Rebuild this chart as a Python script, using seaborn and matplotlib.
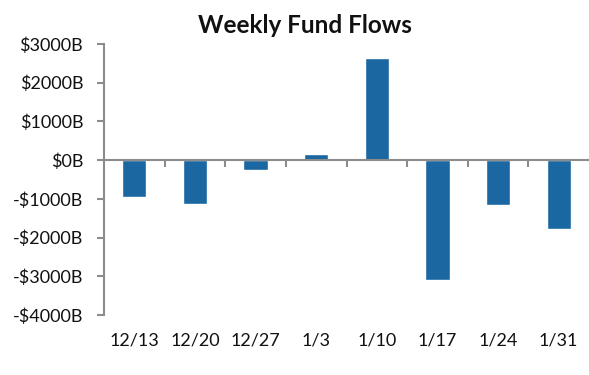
import matplotlib
matplotlib.use("Agg")
import matplotlib.pyplot as plt
from matplotlib.ticker import FuncFormatter, FixedLocator
import seaborn as sns
import pandas as pd

weeks = ["12/13", "12/20", "12/27", "1/3", "1/10", "1/17", "1/24", "1/31"]
flows = [-950, -1130, -250, 170, 2640, -3090, -1150, -1775]  # $B

sns.set_theme(style="white")
plt.rcParams["font.family"] = ["Lato", "DejaVu Sans"]

df = pd.DataFrame({"week": weeks, "flow": flows})

fig = plt.figure(figsize=(5.89, 3.75), dpi=100)
ax = fig.add_axes([104 / 589, 1 - 315 / 375, 1 - 104 / 589, 271 / 375])

sns.barplot(data=df, x="week", y="flow", color="#1a67a1", saturation=1,
            width=0.4, ax=ax)

ax.set_xlim(-0.5, len(weeks) - 0.5)
ax.set_ylim(-4000, 3000)
ax.set_yticks(range(-4000, 3001, 1000))
ax.yaxis.set_major_formatter(
    FuncFormatter(lambda v, _: f"-${abs(v):.0f}B" if v < 0 else f"${v:.0f}B"))

grey = "#8c8c8c"
for s in ["top", "right"]:
    ax.spines[s].set_visible(False)
ax.spines["left"].set_color(grey)
ax.spines["left"].set_linewidth(1.5)
ax.spines["bottom"].set_position(("data", 0))
ax.spines["bottom"].set_color(grey)
ax.spines["bottom"].set_linewidth(1.5)

# tick marks between categories at the zero line, labels pushed down
ax.xaxis.set_minor_locator(FixedLocator([i + 0.5 for i in range(len(weeks) - 1)]))
ax.tick_params(axis="x", which="minor", bottom=True, length=5, width=1.5,
               color=grey, direction="out")
ax.tick_params(axis="x", which="major", length=0, pad=124, labelsize=13,
               labelcolor="#111111")
ax.tick_params(axis="y", left=True, length=5, width=1.5, color=grey,
               direction="out", pad=10, labelsize=13, labelcolor="#111111")

ax.set_xlabel("")
ax.set_ylabel("")
ax.set_title("Weekly Fund Flows", fontsize=17.5, fontweight="bold",
             color="#111111", pad=8, x=(305 - 104) / 485)

fig.savefig("out.png", dpi=100)
